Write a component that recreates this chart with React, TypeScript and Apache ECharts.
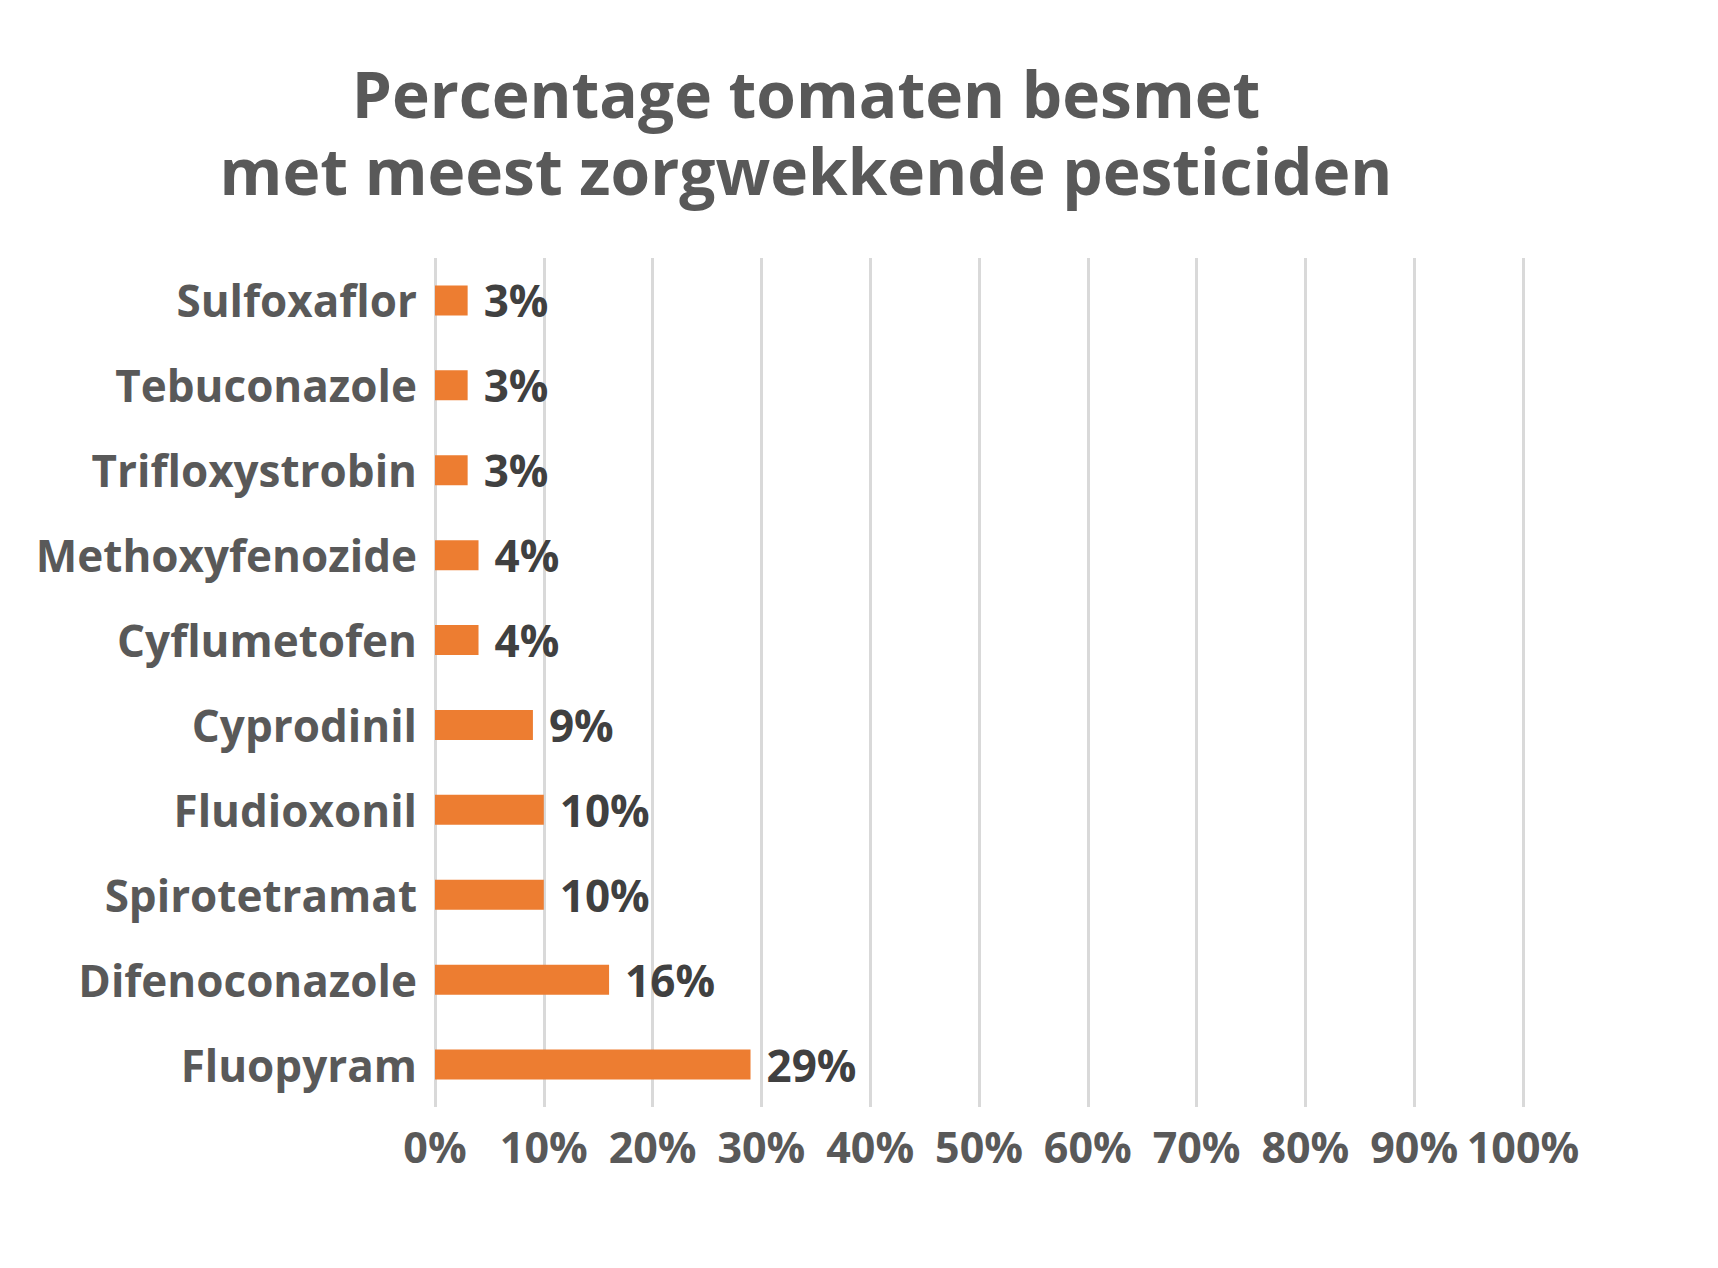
import React, { useEffect, useRef } from "react";
import * as echarts from "echarts";

const categories = [
  "Sulfoxaflor",
  "Tebuconazole",
  "Trifloxystrobin",
  "Methoxyfenozide",
  "Cyflumetofen",
  "Cyprodinil",
  "Fludioxonil",
  "Spirotetramat",
  "Difenoconazole",
  "Fluopyram",
];
const values = [3, 3, 3, 4, 4, 9, 10, 10, 16, 29];
const titleLines = ["Percentage tomaten besmet", "met meest zorgwekkende pesticiden"];

const FONT = "'Open Sans', 'Noto Sans', sans-serif";

export default function App() {
  const ref = useRef<HTMLDivElement>(null);
  useEffect(() => {
    if (!ref.current) return;
    const chart = echarts.init(ref.current, null, { renderer: "svg" });
    const titleStyle = {
      fontFamily: FONT,
      fontWeight: "bold",
      fontSize: 64,
      lineHeight: 66,
      color: "#595959",
    };
    chart.setOption({
      animation: false,
      backgroundColor: "#ffffff",
      title: titleLines.map((t, i) => ({
        text: t,
        left: 806,
        top: 60 + i * 77,
        padding: 0,
        textAlign: "center",
        textStyle: titleStyle,
      })),
      grid: { left: 435, right: 195, top: 258, bottom: 161, containLabel: false },
      xAxis: {
        type: "value",
        min: 0,
        max: 100,
        interval: 10,
        axisLine: { show: false },
        axisTick: { show: false },
        splitLine: { lineStyle: { color: "#d9d9d9", width: 3 } },
        axisLabel: {
          formatter: "{value}%",
          fontFamily: FONT,
          fontWeight: "bold",
          fontSize: 43,
          color: "#595959",
          margin: 18,
        },
      },
      yAxis: {
        type: "category",
        inverse: true,
        data: categories,
        axisLine: { show: false },
        axisTick: { show: false },
        axisLabel: {
          fontFamily: FONT,
          fontWeight: "bold",
          fontSize: 44,
          color: "#595959",
          margin: 18,
        },
      },
      series: [
        {
          type: "bar",
          data: values,
          barWidth: 30,
          itemStyle: { color: "#ED7D31" },
          label: {
            show: true,
            position: "right",
            distance: 16,
            formatter: "{c}%",
            fontFamily: FONT,
            fontWeight: "bold",
            fontSize: 44,
            color: "#404040",
          },
        },
      ],
    });
    return () => chart.dispose();
  }, []);
  return (
    <div
      ref={ref}
      style={{ position: "absolute", left: 0, top: 0, width: 1718, height: 1268 }}
    />
  );
}
